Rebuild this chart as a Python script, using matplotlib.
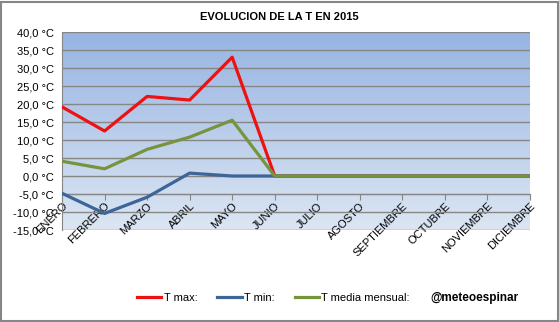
import matplotlib.pyplot as plt
import numpy as np
from matplotlib.patches import Rectangle
from matplotlib.ticker import FuncFormatter

plt.rcParams["font.family"] = ["Liberation Sans", "DejaVu Sans"]

months = ["ENERO", "FEBRERO", "MARZO", "ABRIL", "MAYO", "JUNIO", "JULIO",
          "AGOSTO", "SEPTIEMBRE", "OCTUBRE", "NOVIEMBRE", "DICIEMBRE"]
t_max = [19.2, 12.5, 22.1, 21.1, 33.0, 0, 0, 0, 0, 0, 0, 0]
t_min = [-4.8, -10.4, -5.9, 0.8, 0, 0, 0, 0, 0, 0, 0, 0]
t_media = [4.1, 2.0, 7.4, 10.8, 15.5, 0, 0, 0, 0, 0, 0, 0]
y_ticks = [-15, -10, -5, 0, 5, 10, 15, 20, 25, 30, 35, 40]

fig = plt.figure(figsize=(5.59, 3.22), dpi=100)
ax = fig.add_axes([62 / 559, 1 - 230 / 322, 468 / 559, 198 / 322])

# gradient background of the plot area
grad = np.linspace(0, 1, 256).reshape(-1, 1)
top = np.array([151, 180, 226]) / 255
bottom = np.array([220, 230, 243]) / 255
img = top + (bottom - top) * grad[..., None]
ax.imshow(img, extent=[0, 1, 0, 1], transform=ax.transAxes, aspect="auto", zorder=0)

x = np.arange(len(months))
ax.plot(x, t_max, color="#ee1111", lw=2.3, zorder=3, label="T max:")
ax.plot(x, t_min, color="#3d6597", lw=2.3, zorder=3, label="T min:")
ax.plot(x, t_media, color="#77933c", lw=2.3, zorder=4, label="T media mensual:")

# category axis crosses at -5 (set before the tick labels, it resets them)
ax.spines["bottom"].set_position(("data", -5))
ax.spines["bottom"].set_color("#868686")
ax.spines["left"].set_color("#868686")
ax.spines["top"].set_visible(False)
ax.spines["right"].set_visible(False)

ax.set_xlim(0, len(months) - 1)
ax.set_ylim(-15, 40)
ax.set_yticks(y_ticks)
ax.yaxis.set_major_formatter(FuncFormatter(lambda v, p: f"{v:.1f}".replace(".", ",") + " °C"))
ax.grid(axis="y", color="#868686", lw=1, zorder=1)
ax.set_axisbelow(True)
ax.tick_params(axis="y", length=0, labelsize=8, pad=6)

ax.set_xticks(x)
ax.tick_params(axis="x", direction="out", length=4, color="#868686", pad=1)
ax.set_xticklabels(months, rotation=45, ha="right", rotation_mode="anchor", fontsize=8)

fig.text(279 / 559, 1 - 17 / 322, "EVOLUCION DE LA T EN 2015", ha="center", va="center",
         fontsize=8, fontweight="bold")

handles, labels = ax.get_legend_handles_labels()
fig.legend(handles, labels, loc="center left", bbox_to_anchor=(137 / 559, 1 - 298 / 322),
           ncol=3, frameon=False, fontsize=8, handlelength=2.2, handletextpad=0.2,
           columnspacing=1.8, borderaxespad=0, borderpad=0)
fig.text(430 / 559, 1 - 298 / 322, "@meteoespinar", ha="left", va="center",
         fontsize=8.5, fontweight="bold")

fig.patches.append(Rectangle((1 / 559, 1 / 322), 557 / 559, 319 / 322, transform=fig.transFigure,
                             fill=False, edgecolor="#868686", lw=1.5))

fig.savefig("out.png", dpi=100)
